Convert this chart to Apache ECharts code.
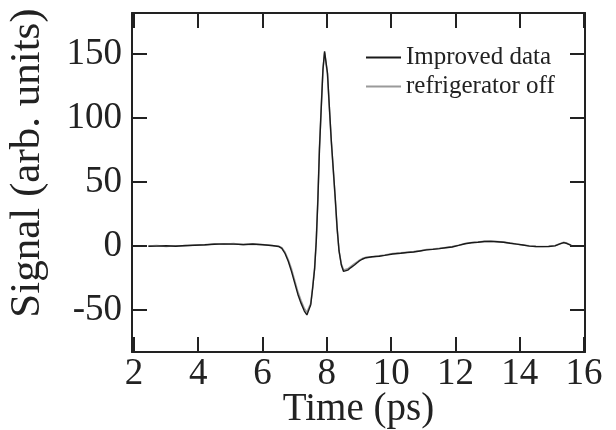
<!DOCTYPE html>
<html><head><meta charset="utf-8">
<script src="https://cdn.jsdelivr.net/npm/echarts@6/dist/echarts.min.js"></script>
<style>html,body{margin:0;padding:0;background:#fff}#c{width:616px;height:430px}</style>
</head><body><div id="c"></div>
<script>
var xTicks = [2, 4, 6, 8, 10, 12, 14, 16];
var yTicks = [-50, 0, 50, 100, 150];
var seriesNames = ['Improved data', 'refrigerator off'];
var improvedX = [2.45,2.7,3.0,3.3,3.6,3.9,4.2,4.5,4.8,5.1,5.4,5.7,6.0,6.3,6.5,6.6,6.7,6.8,6.9,7.0,7.1,7.2,7.3,7.38,7.44,7.5,7.56,7.62,7.67,7.72,7.77,7.83,7.88,7.93,7.97,8.02,8.08,8.14,8.2,8.26,8.32,8.38,8.45,8.52,8.58,8.65,8.75,8.86,9.0,9.1,9.22,9.4,9.63,9.8,10.05,10.3,10.5,10.7,10.9,11.1,11.3,11.5,11.7,11.9,12.1,12.3,12.5,12.7,12.9,13.1,13.3,13.5,13.7,13.9,14.1,14.3,14.5,14.7,14.9,15.1,15.25,15.37,15.47,15.6];
var improvedY = [-0.3,-0.2,0.0,-0.3,0.2,0.5,0.8,1.2,1.5,1.3,1.0,1.4,0.8,0.2,-0.5,-2,-6,-12,-20,-29,-38,-45,-51,-54,-53,-46,-33,-18,3,35,75,110,138,152,151,135,108,82,60,38,14,-4,-15,-20,-21,-19,-17,-15,-12,-10.5,-9.3,-8.5,-8.2,-7.5,-6.4,-5.8,-5.2,-4.8,-4.0,-3.2,-2.8,-2.2,-1.5,-0.9,0.3,1.6,2.4,2.8,3.4,3.5,3.2,2.8,2.0,1.3,0.6,-0.2,-0.5,-0.6,-0.5,0.0,1.5,2.5,1.8,0.3];
var offX = improvedX;
var offY = [-0.1,0.3,-0.4,0.1,-0.1,0.7,0.5,1.6,1.2,1.7,0.8,1.2,1.0,0.0,-0.3,-1.5,-5,-11,-18,-27,-36,-43,-49,-52,-51,-45,-32,-17,4,36,76,111,138,151,150,134,107,81,59,37,13,-4,-14,-19,-19.5,-18,-16,-14,-11.5,-10,-9,-8.8,-7.8,-7.2,-6.0,-5.5,-5.0,-4.5,-3.8,-3.0,-2.5,-2.0,-1.3,-0.6,0.5,1.8,2.6,3.0,3.5,3.7,3.3,2.9,2.2,1.4,0.7,0.0,-0.4,-0.5,-0.3,0.2,1.7,2.7,2.0,0.5];

function pairs(xs, ys){ return xs.map(function(x,i){return [x, ys[i]];}); }
var FONT = 'Liberation Serif';
function axisLine(){ return {show:true, onZero:false, lineStyle:{color:'#222', width:2}}; }
function tick(vals){ return {show:true, inside:true, length:15, customValues:vals, lineStyle:{color:'#222', width:2}}; }
var chart = echarts.init(document.getElementById('c'), null, {renderer:'canvas'});
chart.setOption({
  animation:false,
  backgroundColor:'#fff',
  grid:{left:132, right:31, top:13, bottom:78, containLabel:false, outerBoundsMode:'none'},
  legend:{
    orient:'vertical', left:361, top:40, icon:'rect', itemWidth:35, itemHeight:2, itemGap:4,
    textStyle:{fontFamily:FONT, fontSize:25, color:'#222'},
    data:[{name:seriesNames[0]},{name:seriesNames[1]}]
  },
  xAxis:[{
    type:'value', min:1.94, max:16.03, position:'bottom',
    axisLine:axisLine(), splitLine:{show:false},
    axisTick:tick(xTicks),
    axisLabel:{customValues:xTicks, fontFamily:FONT, fontSize:37, color:'#222', margin:4},
    name:'Time (ps)', nameLocation:'middle', nameGap:38, nameMoveOverlap:false,
    nameTextStyle:{fontFamily:FONT, fontSize:39, color:'#222'}
  },{
    type:'value', min:1.94, max:16.03, position:'top',
    axisLine:axisLine(), splitLine:{show:false},
    axisTick:tick(xTicks),
    axisLabel:{show:false}
  }],
  yAxis:[{
    type:'value', min:-83, max:182, position:'left',
    axisLine:axisLine(), splitLine:{show:false},
    axisTick:tick(yTicks),
    axisLabel:{customValues:yTicks, fontFamily:FONT, fontSize:37, color:'#222', margin:10}
  },{
    type:'value', min:-83, max:182, position:'right',
    axisLine:axisLine(), splitLine:{show:false},
    axisTick:tick(yTicks),
    axisLabel:{show:false}
  }],
  graphic:[{
    type:'text', x:28, y:163, rotation:Math.PI/2,
    style:{text:'Signal (arb. units)', font:'43px "Liberation Serif"', fill:'#222', align:'center', verticalAlign:'middle'}
  }],
  series:[{
    name:seriesNames[1], type:'line', data:pairs(offX, offY), symbol:'none',
    lineStyle:{color:'#9a9a9a', width:1.6}, itemStyle:{color:'#9a9a9a'}, z:2
  },{
    name:seriesNames[0], type:'line', data:pairs(improvedX, improvedY), symbol:'none',
    lineStyle:{color:'#1a1a1a', width:1.4}, itemStyle:{color:'#1a1a1a'}, z:3
  }]
});
</script></body></html>
